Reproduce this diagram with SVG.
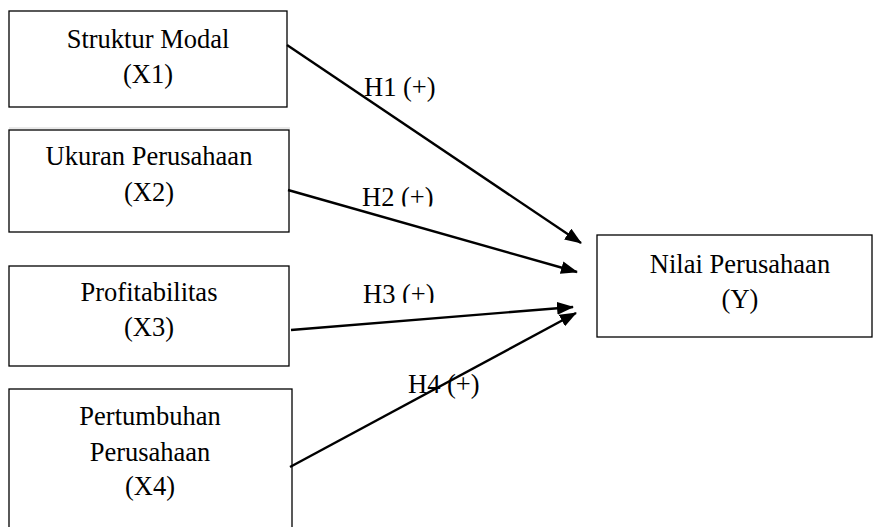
<svg xmlns="http://www.w3.org/2000/svg" width="873" height="527" viewBox="0 0 873 527">
<style>
.box{fill:#fff;stroke:#000;stroke-width:1.3}
.t{font-family:"Liberation Serif","Times New Roman",serif;font-size:26.5px;fill:#000;text-anchor:middle}
.lbl{font-family:"Liberation Serif","Times New Roman",serif;font-size:26.5px;fill:#000}
.c{stroke:#000;stroke-width:2.4;fill:none;marker-end:url(#ah)}
</style>
<defs>
<marker id="ah" viewBox="0 0 17 13" refX="16" refY="6.5" markerWidth="17" markerHeight="13" markerUnits="userSpaceOnUse" orient="auto">
<path d="M0,0 L17,6.5 L0,13 z" fill="#000"/>
</marker>
<clipPath id="cH2"><rect x="300" y="170" width="200" height="36.5"/></clipPath>
<clipPath id="cH3"><rect x="300" y="270" width="200" height="33"/></clipPath>
</defs>
<rect width="873" height="527" fill="#fff"/>
<line x1="9" y1="128" x2="290" y2="128" stroke="#d4d4d4" stroke-width="1"/>
<g id="x1">
<rect class="box" x="9" y="11" width="278" height="96"/>
<text class="t" x="148" y="48">Struktur Modal</text>
<text class="t" x="148" y="83">(X1)</text>
</g>
<g id="x2">
<rect class="box" x="9" y="130" width="280" height="102"/>
<text class="t" x="149" y="165">Ukuran Perusahaan</text>
<text class="t" x="149" y="201">(X2)</text>
</g>
<g id="x3">
<rect class="box" x="9" y="266" width="280" height="100"/>
<text class="t" x="149" y="301">Profitabilitas</text>
<text class="t" x="149" y="336">(X3)</text>
</g>
<g id="x4">
<rect class="box" x="9" y="389" width="283" height="150"/>
<text class="t" x="150" y="425">Pertumbuhan</text>
<text class="t" x="150" y="461">Perusahaan</text>
<text class="t" x="150" y="495">(X4)</text>
</g>
<g id="y">
<rect class="box" x="597" y="235" width="275" height="102"/>
<text class="t" x="740" y="273">Nilai Perusahaan</text>
<text class="t" x="740" y="308">(Y)</text>
</g>
<g id="connectors">
<line class="c" x1="287" y1="45" x2="581" y2="243"/>
<line class="c" x1="288" y1="190" x2="577" y2="272"/>
<line class="c" x1="291" y1="330" x2="573" y2="307"/>
<line class="c" x1="290" y1="467" x2="576" y2="313"/>
</g>
<g id="labels">
<text class="lbl" x="364" y="96">H1 (+)</text>
<text class="lbl" x="362" y="206" clip-path="url(#cH2)">H2 (+)</text>
<text class="lbl" x="363" y="303" clip-path="url(#cH3)">H3 (+)</text>
<text class="lbl" x="408" y="393">H4 (+)</text>
</g>
</svg>
